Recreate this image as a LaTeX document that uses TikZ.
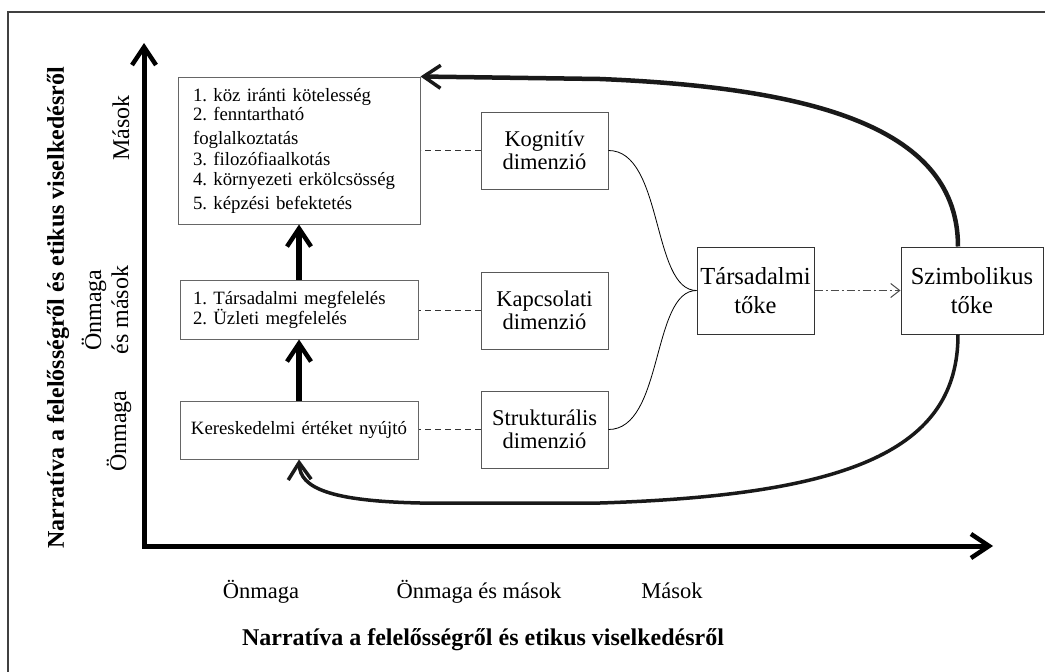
\documentclass[tikz,border=0pt]{standalone}
\usepackage{fontspec}
\setmainfont{Liberation Serif}
\usetikzlibrary{arrows.meta}
\frenchspacing
\begin{document}
\begin{tikzpicture}[x=1pt,y=-1pt,
  frameline/.style={draw=black!75, line width=1.5pt},
  axisline/.style={line width=5pt, line join=miter,
    {Straight Barb[length=18pt,width=24pt,line width=4.5pt]}-{Straight Barb[length=18pt,width=24pt,line width=4.5pt]}},
  stepup/.style={line width=5.5pt,
    -{Straight Barb[length=18pt,width=24pt,line width=4.5pt]}},
  loopline/.style={line width=#1, black!90,
    -{Straight Barb[length=17pt,width=23pt,line width=3.5pt]}},
  listbox/.style={draw=black!60, line width=1pt, inner sep=0pt,
    text width=212pt, align=left, font=\fontsize{18.8}{19.5}\selectfont},
  dimbox/.style={draw=black!65, line width=1pt, inner sep=0pt,
    minimum width=127pt, minimum height=77pt, align=center,
    font=\fontsize{22.5}{23.5}\selectfont},
  capbox/.style={draw=black!80, line width=1pt, inner sep=2pt,
    minimum height=87pt, align=center,
    font=\fontsize{24.5}{29}\selectfont},
  dashline/.style={draw=black!80, line width=0.9pt, dash pattern=on 6pt off 4pt},
  dotdash/.style={draw=black!70, line width=1pt,
    dash pattern=on 8pt off 3pt on 2pt off 3pt,
    -{Straight Barb[length=9pt,width=14pt,line width=1pt]}},
  axislabel/.style={font=\fontsize{22.5}{27}\selectfont, align=center},
  vlabel/.style={font=\fontsize{24}{27}\selectfont, align=center, rotate=90},
  titlelabel/.style={font=\fontsize{24}{26}\selectfont\bfseries}
]
\useasboundingbox (0,0) rectangle (1045,672);

% outer frame
\draw[frameline] (8,672) -- (8,12) -- (1045,12);

% axes
\coordinate (ytip) at (144,43);
\coordinate (origin) at (144,546);
\coordinate (xtip) at (993,546);
\draw[axisline] (ytip) -- (origin) -- (xtip);

% axis titles
\node[titlelabel, rotate=90] (ytitle) at (58,308)
  {Narratíva a felelősségről és etikus viselkedésről};
\node[titlelabel] (xtitle) at (483,640)
  {Narratíva a felelősségről és etikus viselkedésről};

% scale labels on the vertical axis
\node[vlabel] (yhigh) at (121,128) {Mások};
\node[vlabel] (ymid) at (105,310) {Önmaga\\és mások};
\node[vlabel] (ylow) at (119,431) {Önmaga};

% scale labels on the horizontal axis
\node[axislabel, anchor=base] (xlow) at (261,598) {Önmaga};
\node[axislabel, anchor=base] (xmid) at (479,598) {Önmaga és mások};
\node[axislabel, anchor=base] (xhigh) at (672,598) {Mások};

% narrative levels
\node[listbox, minimum width=242pt, minimum height=147pt] (A) at (299,150.5)
  {1. köz iránti kötelesség\\
   2. fenntartható\\[4.5pt]
   foglalkoztatás\\[1.5pt]
   3. filozófiaalkotás\\
   4. környezeti erkölcsösség\\[4.5pt]
   5. képzési befektetés};
\node[listbox, minimum width=238pt, minimum height=59pt] (B) at (299,309.5)
  {1. Társadalmi megfelelés\\[0.5pt]
   2. Üzleti megfelelés};
\node[listbox, minimum width=238pt, minimum height=58pt, text width=230pt,
  align=center] (C) at (299,430)
  {Kereskedelmi értéket nyújtó};

% dimensions of social capital
\node[dimbox] (K) at (544.5,150.5) {Kognitív\\dimenzió};
\node[dimbox] (R) at (544.5,310.5) {Kapcsolati\\dimenzió};
\node[dimbox] (St) at (544.5,429.5) {Strukturális\\dimenzió};

% capitals
\node[capbox, minimum width=117pt] (T) at (755.5,290.5) {Társadalmi\\tőke};
\node[capbox, minimum width=142pt] (Sz) at (972,290.5) {Szimbolikus\\tőke};

% links between levels and dimensions
\draw[dashline] (K.west) -- (K.west -| A.east);
\draw[dashline] (R.west) -- (R.west -| B.east);
\draw[dashline] (St.west) -- (St.west -| C.east);

% dimensions feeding social capital
\draw[line width=0.8pt] (K.east) .. controls +(55,0) and +(-45,0) .. (T.west);
\draw[line width=0.8pt] (St.east) .. controls +(55,0) and +(-45,0) .. (T.west);

% social capital converted to symbolic capital
\draw[dotdash] (T.east) -- (Sz.west);

% progression between levels
\draw[stepup] (C.north) -- (B.south);
\draw[stepup] (B.north) -- (A.south);

% feedback loops from symbolic capital
\draw[loopline=4.5pt] ([xshift=-14pt]Sz.north)
  .. controls (958,130) and (820,88) .. (600,79) -- (A.north east);
\draw[loopline=3.5pt] ([xshift=-14pt]Sz.south)
  .. controls (958,450) and (850,495) .. (600,503) -- (420,503)
  .. controls (330,501) and (300,488) .. (C.south);
\end{tikzpicture}
\end{document}
